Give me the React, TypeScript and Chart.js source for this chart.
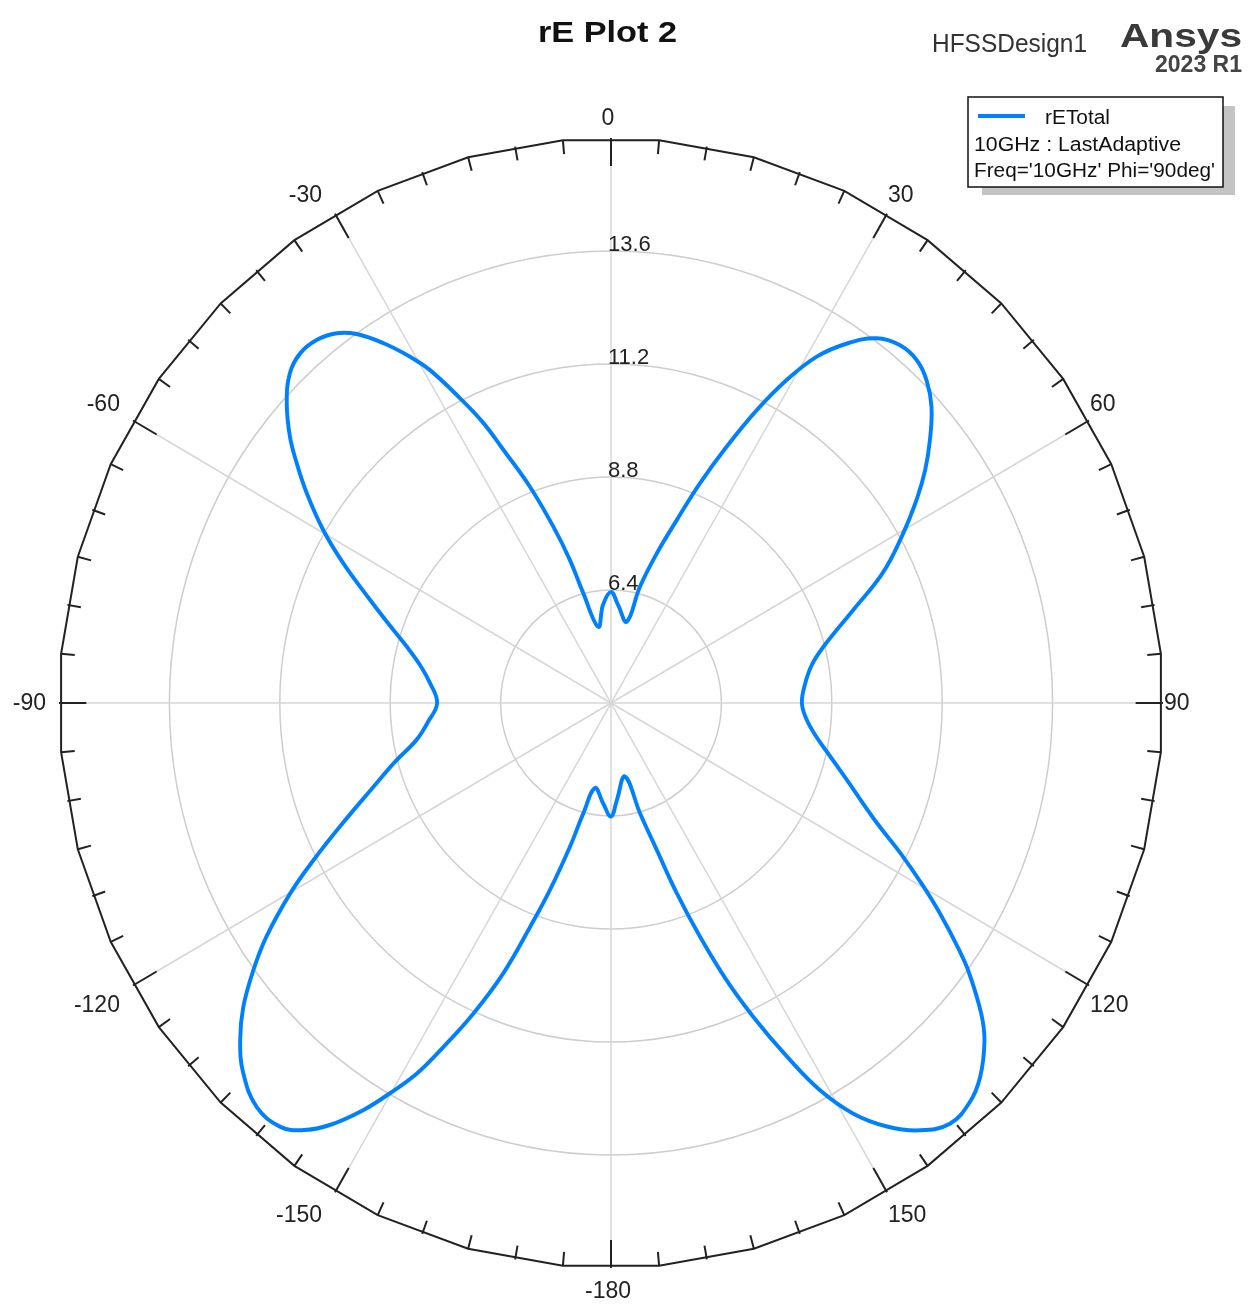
import React, { useEffect, useRef } from 'react';
import { Chart, registerables } from 'chart.js';

Chart.register(...registerables);

// ---------- texts ----------
const TITLE = 'rE Plot 2';
const DESIGN_NAME = 'HFSSDesign1';
const BRAND = 'Ansys';
const BRAND_VERSION = '2023 R1';
const SERIES_NAME = 'rETotal';
const LEGEND_LINES = ['10GHz : LastAdaptive', "Freq='10GHz' Phi='90deg'"];

// ---------- radial axis ----------
const R_MIN = 4;
const R_MAX = 16;
const R_STEP = 2.4;
const RADIAL_TICK_LABELS = ['6.4', '8.8', '11.2', '13.6'];

// ---------- angular axis (degrees, clockwise from top) ----------
const ANGLE_TICKS = [0, 30, 60, 90, 120, 150, -180, -150, -120, -90, -60, -30];

// ---------- series: rETotal (angle in deg, value) ----------
const ANGLES = [
  -180, -175.3, -169.1, -165.6, -163.7, -161.5, -159.7, -157.8, -155.6, -153.5,
  -151.8, -149.9, -148.1, -145.7, -143.6, -141.4, -138.1, -134.5, -131.6, -128.9,
  -126.1, -123.5, -120.1, -117.3, -114.0, -109.0, -104.9, -100.5, -95.8, -90,
  -83.8, -79.0, -74.9, -70.7, -67.3, -63.0, -59.6, -56.0, -53.3, -51.0,
  -47.9, -44.9, -42.3, -39.7, -37.2, -35.2, -32.9, -30.7, -29.1, -26.9,
  -25.0, -23.5, -21.0, -18.5, -16.4, -14.5, -9.7, -4.8, 0, 4.2,
  11.2, 14.3, 17.4, 20.2, 22.5, 24.8, 27.0, 29.1, 31.3, 33.9,
  36.7, 39.6, 42.4, 45.0, 47.9, 51.1, 54.1, 57.0, 60.8, 65.0,
  69.4, 75.5, 79.5, 84.8, 90, 94.3, 98.7, 103.1, 107.5, 113.5,
  116.9, 119.7, 122.0, 124.6, 126.3, 129.4, 131.5, 134.7, 137.4, 140.5,
  143.5, 146.3, 148.9, 151.1, 153.0, 155.1, 156.9, 158.7, 160.5, 162.3,
  164.9, 169.0, 176.4,
];
const VALUES = [
  6.41, 6.13, 5.84, 6.42, 7.18, 8.19, 9.07, 10.2, 11.24, 12.16,
  12.93, 13.58, 14.18, 14.85, 15.27, 15.52, 15.53, 15.21, 14.78, 14.27,
  13.62, 12.98, 12.06, 11.28, 10.45, 9.46, 8.86, 8.3, 8.0, 7.78,
  7.96, 8.23, 8.6, 9.14, 9.68, 10.53, 11.25, 11.98, 12.52, 12.98,
  13.5, 13.89, 14.04, 14.02, 13.86, 13.59, 13.1, 12.55, 12.09, 11.26,
  10.56, 9.86, 8.92, 7.95, 7.17, 6.41, 5.64, 6.09, 6.36, 6.09,
  5.76, 6.55, 7.33, 8.14, 9.05, 10.0, 10.98, 11.85, 12.61, 13.2,
  13.66, 13.86, 13.86, 13.7, 13.39, 12.91, 12.43, 11.92, 11.24, 10.51,
  9.63, 8.77, 8.44, 8.23, 8.15, 8.25, 8.49, 8.87, 9.36, 10.26,
  11.06, 11.79, 12.43, 13.17, 13.65, 14.42, 14.84, 15.29, 15.52, 15.58,
  15.29, 14.81, 14.18, 13.39, 12.43, 11.35, 10.4, 9.33, 8.29, 7.28,
  6.43, 5.59, 6.06,
];

// ---------- styling ----------
const FONT = '"Liberation Sans", Arial, Helvetica, sans-serif';
const CURVE_COLOR = 'rgb(0,128,255)';
const SX = 552 / 565; // horizontal squash of the polar frame (reference is slightly elliptical)
const SLOTS_PER_DEG = 10;
const N_SLOTS = 360 * SLOTS_PER_DEG;

function fitText(
  ctx: CanvasRenderingContext2D,
  text: string,
  x: number,
  y: number,
  width: number,
  font: string,
  color: string,
  align: 'left' | 'center' = 'left'
) {
  ctx.save();
  ctx.font = font;
  ctx.fillStyle = color;
  ctx.textAlign = 'left';
  ctx.textBaseline = 'alphabetic';
  const w = ctx.measureText(text).width;
  const k = width / w;
  const left = align === 'center' ? x - width / 2 : x;
  ctx.translate(left, y);
  ctx.scale(k, 1);
  ctx.fillText(text, 0, 0);
  ctx.restore();
}

const decorPlugin = {
  id: 'polarDecor',
  beforeDraw(chart: any) {
    const s = chart.scales.r;
    const ctx = chart.ctx as CanvasRenderingContext2D;
    ctx.save();
    ctx.translate(s.xCenter, 0);
    ctx.scale(SX, 1);
    ctx.translate(-s.xCenter, 0);
  },
  afterDraw(chart: any) {
    const ctx = chart.ctx as CanvasRenderingContext2D;
    ctx.restore();
    const s = chart.scales.r;
    const cx = s.xCenter;
    const cy = s.yCenter;
    const Ry = s.drawingArea;
    const Rx = Ry * SX;
    const pt = (deg: number, rad: number) => {
      const a = (deg * Math.PI) / 180;
      return [cx + (rad / Ry) * Rx * Math.sin(a), cy - rad * Math.cos(a)];
    };

    // outer frame (polygon)
    ctx.save();
    ctx.strokeStyle = '#222';
    ctx.lineWidth = 2;
    ctx.beginPath();
    for (let d = 5; d < 365; d += 10) {
      const [x, y] = pt(d, Ry);
      if (d === 5) ctx.moveTo(x, y);
      else ctx.lineTo(x, y);
    }
    ctx.closePath();
    ctx.stroke();
    // ticks every 5 degrees
    for (let d = 0; d < 360; d += 5) {
      const len = d % 30 === 0 ? 28 : 14;
      const [x1, y1] = pt(d, Ry);
      const [x2, y2] = pt(d, Ry - len);
      ctx.beginPath();
      ctx.moveTo(x1, y1);
      ctx.lineTo(x2, y2);
      ctx.stroke();
    }
    ctx.restore();

    // radial tick labels
    ctx.save();
    ctx.font = `22px ${FONT}`;
    ctx.fillStyle = '#222';
    ctx.textAlign = 'left';
    ctx.textBaseline = 'alphabetic';
    RADIAL_TICK_LABELS.forEach((lab) => {
      const r = s.getDistanceFromCenterForValue(parseFloat(lab));
      ctx.fillText(lab, cx - 3, cy - r);
    });
    ctx.restore();

    // angle labels
    ctx.save();
    ctx.font = `23px ${FONT}`;
    ctx.fillStyle = '#222';
    ctx.textBaseline = 'middle';
    ANGLE_TICKS.forEach((deg) => {
      const a = (deg * Math.PI) / 180;
      const sn = Math.sin(a);
      const cs = Math.cos(a);
      const [px, py] = pt(deg, Ry);
      let x = px;
      if (sn > 0.01) {
        ctx.textAlign = 'left';
        x = px + 1;
      } else if (sn < -0.01) {
        ctx.textAlign = 'right';
        x = px - 13;
      } else {
        ctx.textAlign = 'center';
        x = px - 3;
      }
      let y = py + 1;
      if (cs > 0.01) y = py - (12 + 7 * cs);
      else if (cs < -0.01) y = py + (16 + 8 * Math.abs(cs));
      ctx.fillText(String(deg), x, y);
    });
    ctx.restore();

    // title & branding
    fitText(ctx, TITLE, 607.5, 41.5, 139, `bold 30px ${FONT}`, '#111', 'center');
    fitText(ctx, DESIGN_NAME, 932, 51.5, 155, `25px ${FONT}`, '#333');
    fitText(ctx, BRAND, 1120, 47, 122, `bold 33px ${FONT}`, '#3a3a3a');
    fitText(ctx, BRAND_VERSION, 1155, 72, 87, `bold 23px ${FONT}`, '#444');

    // legend box
    ctx.save();
    ctx.fillStyle = '#c4c4c4';
    ctx.fillRect(982, 106, 253, 89);
    ctx.fillStyle = '#fff';
    ctx.fillRect(968, 97, 255, 90);
    ctx.strokeStyle = '#111';
    ctx.lineWidth = 1.5;
    ctx.strokeRect(968, 97, 255, 90);
    ctx.strokeStyle = CURVE_COLOR;
    ctx.lineWidth = 4;
    ctx.beginPath();
    ctx.moveTo(978, 116);
    ctx.lineTo(1025, 116);
    ctx.stroke();
    ctx.restore();
    fitText(ctx, SERIES_NAME, 1045, 123.5, 65, `20px ${FONT}`, '#111');
    fitText(ctx, LEGEND_LINES[0], 974, 150.5, 207, `20px ${FONT}`, '#111');
    fitText(ctx, LEGEND_LINES[1], 974, 176.5, 241, `20px ${FONT}`, '#111');
  },
};

export default function App() {
  const canvasRef = useRef<HTMLCanvasElement | null>(null);

  useEffect(() => {
    if (!canvasRef.current) return;
    const labels: string[] = [];
    for (let k = 0; k < N_SLOTS; k++) {
      const a = k / SLOTS_PER_DEG;
      labels.push(String(a > 180 ? a - 360 : a));
    }
    const data: (number | null)[] = new Array(N_SLOTS).fill(null);
    ANGLES.forEach((a, i) => {
      const k = ((Math.round(a * SLOTS_PER_DEG) % N_SLOTS) + N_SLOTS) % N_SLOTS;
      data[k] = VALUES[i];
    });

    const chart = new Chart(canvasRef.current, {
      type: 'radar',
      data: {
        labels,
        datasets: [
          {
            label: SERIES_NAME,
            data,
            borderColor: CURVE_COLOR,
            backgroundColor: 'rgba(0,0,0,0)',
            borderWidth: 4,
            fill: false,
            spanGaps: true,
            tension: 0.4,
            pointRadius: 0,
            pointHoverRadius: 0,
          },
        ],
      },
      options: {
        responsive: true,
        maintainAspectRatio: false,
        animation: false,
        events: [],
        layout: { padding: { left: 46, right: 77, top: 138, bottom: 38 } },
        plugins: {
          legend: { display: false },
          tooltip: { enabled: false },
          title: { display: false },
        },
        scales: {
          r: {
            min: R_MIN,
            max: R_MAX,
            beginAtZero: false,
            ticks: { stepSize: R_STEP, display: false },
            pointLabels: { display: false },
            grid: {
              circular: true,
              color: (c: any) => (c.index >= 5 ? 'rgba(0,0,0,0)' : '#cdcdcd'),
              lineWidth: 1.5,
            },
            angleLines: {
              display: true,
              color: '#d6d6d6',
              lineWidth: (c: any) => (c.index % (30 * SLOTS_PER_DEG) === 0 ? 1.5 : 0),
            },
          },
        },
      } as any,
      plugins: [decorPlugin as any],
    });
    return () => chart.destroy();
  }, []);

  return (
    <div
      style={{
        position: 'absolute',
        left: 0,
        top: 0,
        width: 1253,
        height: 1306,
        background: '#fff',
      }}
    >
      <canvas ref={canvasRef} style={{ display: 'block' }} />
    </div>
  );
}
